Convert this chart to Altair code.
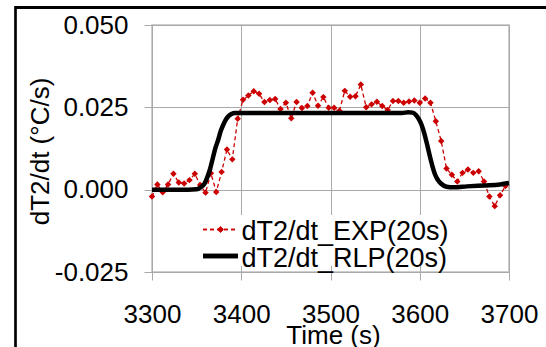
import altair as alt
import pandas as pd

# ---- data ----
exp_t = [3300, 3306, 3312, 3318, 3324, 3330, 3336, 3342, 3348, 3354,
         3360, 3366, 3372, 3378, 3384, 3390, 3396, 3402, 3408, 3414,
         3420, 3426, 3432, 3438, 3444, 3450, 3456, 3462, 3468, 3474,
         3480, 3486, 3492, 3498, 3504, 3510, 3516, 3522, 3528, 3534,
         3540, 3546, 3552, 3558, 3564, 3570, 3576, 3582, 3588, 3594,
         3600, 3606, 3612, 3618, 3624, 3630, 3636, 3642, 3648, 3654,
         3660, 3666, 3672, 3678, 3684, 3690, 3696]
exp_v = [-0.0021, 0.0016, -0.0008, 0.0016, 0.0048, 0.0022, 0.0019, 0.0029, 0.0048, 0.0014,
         -0.0009, 0.0050, -0.0007, 0.0054, 0.0122, 0.0092, 0.0215, 0.0273, 0.0286, 0.0299,
         0.0291, 0.0266, 0.0272, 0.0275, 0.0245, 0.0264, 0.0217, 0.0266, 0.0248, 0.0254,
         0.0294, 0.0255, 0.0281, 0.0249, 0.0249, 0.0240, 0.0300, 0.0282, 0.0284, 0.0319,
         0.0250, 0.0259, 0.0267, 0.0254, 0.0242, 0.0269, 0.0269, 0.0264, 0.0268, 0.0271,
         0.0264, 0.0277, 0.0264, 0.0208, 0.0148, 0.0064, 0.0045, 0.0025, 0.0051, 0.0061,
         0.0051, 0.0056, 0.0025, -0.0021, -0.0050, -0.0017, 0.0011]

rlp_t = [3300, 3320, 3340, 3350, 3355, 3359, 3362, 3365, 3368, 3371,
         3374, 3377, 3380, 3383, 3386, 3389, 3393, 3400, 3450, 3500,
         3550, 3580, 3587, 3592, 3596, 3599, 3602, 3605, 3608, 3611,
         3614, 3617, 3620, 3624, 3630, 3638, 3653, 3672, 3690, 3700]
rlp_v = [0.0000, 0.0000, 0.0000, 0.0001, 0.0008, 0.0019, 0.0038, 0.0062, 0.0094, 0.0126,
         0.0150, 0.0178, 0.0198, 0.0214, 0.0224, 0.0230, 0.0233, 0.0233, 0.0233, 0.0233,
         0.0233, 0.0233, 0.0235, 0.0234, 0.0226, 0.0214, 0.0197, 0.0172, 0.0140, 0.0105,
         0.0073, 0.0047, 0.0031, 0.0018, 0.0009, 0.0007, 0.0010, 0.0013, 0.0016, 0.0020]

x_ticks = [3300, 3400, 3500, 3600, 3700]
y_ticks = [-0.025, 0.0, 0.025, 0.05]
series_names = ["dT2/dt_EXP(20s)", "dT2/dt_RLP(20s)"]
x_title = "Time (s)"
y_title = "dT2/dt (°C/s)"

RED = "#cc0000"
GRID = "#a9a9a9"
FONT = "Liberation Sans"
W, H = 357, 247

exp_df = pd.DataFrame({"t": exp_t, "v": exp_v})
rlp_df = pd.DataFrame({"t": rlp_t, "v": rlp_v})

xs = alt.X("t:Q", scale=alt.Scale(domain=[3300, 3700], nice=False, zero=False),
           axis=alt.Axis(values=x_ticks, title=x_title, format="d",
                         labelFontSize=26, labelFont=FONT, labelColor="black",
                         labelBaseline="alphabetic", labelPadding=42, labelFlush=False,
                         titleFontSize=26, titleFont=FONT, titleFontWeight="normal",
                         titleColor="black", titleBaseline="alphabetic",
                         titleX=181, titleY=71, titleAnchor="middle",
                         tickSize=8, tickColor=GRID, domainColor=GRID,
                         gridColor=GRID, grid=True))
ys = alt.Y("v:Q", scale=alt.Scale(domain=[-0.025, 0.05], nice=False, zero=False),
           axis=alt.Axis(values=y_ticks, title=y_title,
                         labelExpr="datum.value < 0 ? '-' + format(-datum.value, '.3f') : format(datum.value, '.3f')",
                         labelFontSize=26, labelFont=FONT, labelColor="black",
                         labelPadding=16, labelFlush=False,
                         titleFontSize=26, titleFont=FONT, titleFontWeight="normal",
                         titleColor="black", titleBaseline="alphabetic",
                         titleAngle=270, titleX=-104, titleY=126, titleAnchor="middle",
                         tickSize=8, tickColor=GRID, domainColor=GRID,
                         gridColor=GRID, grid=True))

exp_line = alt.Chart(exp_df).mark_line(color=RED, strokeWidth=1.3,
                                        strokeDash=[4, 3]).encode(x=xs, y=ys)
exp_pts = alt.Chart(exp_df).mark_point(shape="diamond", filled=True, color=RED,
                                        size=42, opacity=1).encode(x="t:Q", y="v:Q")
rlp_line = alt.Chart(rlp_df).mark_line(color="black", strokeWidth=4.5,
                                        interpolate="monotone").encode(x="t:Q", y="v:Q")

# ---- legend (inside plot) ----
leg_df = pd.DataFrame({"name": series_names})
leg_box = alt.Chart(leg_df).mark_rect(color="white").encode(
    x=alt.value(47), x2=alt.value(298), y=alt.value(190), y2=alt.value(241))
leg1_line = alt.Chart(leg_df).mark_rule(color=RED, strokeWidth=1.3, strokeDash=[4, 3]).encode(
    x=alt.value(51), x2=alt.value(86), y=alt.value(204.5))
leg1_pt = alt.Chart(leg_df).mark_point(shape="diamond", filled=True, color=RED, size=42,
                                       opacity=1).encode(x=alt.value(68.5), y=alt.value(204.5))
leg2_line = alt.Chart(leg_df).mark_rule(color="black", strokeWidth=4.5).encode(
    x=alt.value(51), x2=alt.value(86), y=alt.value(231))
leg1_txt = alt.Chart(pd.DataFrame({"name": [series_names[0]]})).mark_text(
    align="left", baseline="alphabetic", font=FONT, fontSize=27, color="black").encode(
    x=alt.value(89.5), y=alt.value(214.5), text="name:N")
leg2_txt = alt.Chart(pd.DataFrame({"name": [series_names[1]]})).mark_text(
    align="left", baseline="alphabetic", font=FONT, fontSize=27, color="black").encode(
    x=alt.value(89.5), y=alt.value(241.5), text="name:N")

# ---- outer frame (black lines at top and left of the picture) ----
frame_top = alt.Chart(leg_df).mark_rule(color="black", strokeWidth=3).encode(
    x=alt.value(-137), x2=alt.value(400), y=alt.value(-17.5))
frame_left = alt.Chart(leg_df).mark_rule(color="black", strokeWidth=2.2).encode(
    x=alt.value(-136.5), y=alt.value(-19), y2=alt.value(330))

chart = alt.layer(exp_line, exp_pts, rlp_line, leg_box, leg1_line, leg1_pt,
                  leg2_line, leg1_txt, leg2_txt, frame_top, frame_left).properties(
    width=W, height=H,
    padding={"left": 152, "top": 25, "right": 37, "bottom": 75},
    autosize=alt.AutoSizeParams(type="none"),
    background="white",
).configure_view(stroke="#bdbdbd", strokeWidth=1.5).configure_axis(
    gridWidth=1, domainWidth=1, tickWidth=1)

chart.save("out.html", embed_options={"renderer": "svg", "actions": False})
